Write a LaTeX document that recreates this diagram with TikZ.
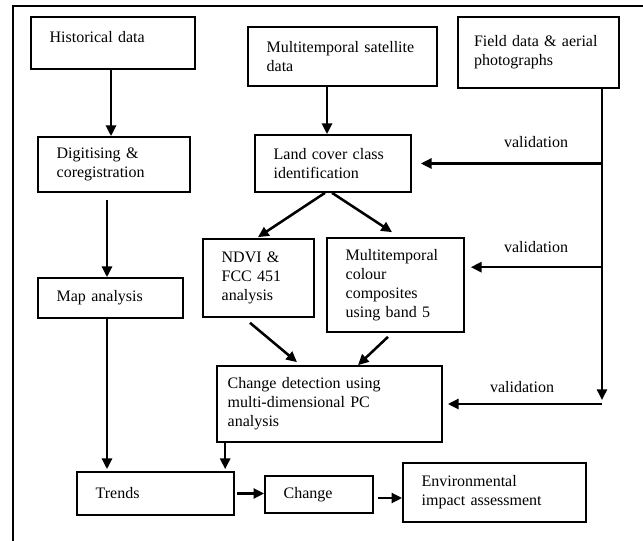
\documentclass[tikz,border=0pt]{standalone}
\usepackage{fontspec}
\setmainfont{Liberation Serif}
\usepackage{tikz}
\usetikzlibrary{arrows.meta, calc, positioning}
\tikzset{>={Triangle[length=8pt,width=7.5pt]}}
\tikzset{
    box/.style={draw, line width=1.25pt, align=left, inner xsep=14pt, inner ysep=3pt, font=\fontsize{12}{14.25}\selectfont},
    arr/.style={->, line width=1.9pt},
    lbl/.style={font=\fontsize{12}{14.25}\selectfont}
}

\begin{document}
\begin{tikzpicture}[x=0.75pt, y=-0.75pt]
    \useasboundingbox (0,0) rectangle (643,541);
    \draw[line width=1.6pt](643,6)--(13,6)--(13,541);
    \node[box, text width=95pt, minimum height=39pt, text depth=9pt](hist) at (113,43){Historical data};
    \node[box, text width=86pt, minimum height=41.25pt](digit) at (114,164.5){Digitising \&\\coregistration};
    \node[box, text width=80.75pt, minimum height=30pt](mapan) at (110.5,298){Map analysis};
    \node[box, text width=113.75pt, minimum height=44.25pt](sat) at (342.5,56.5){Multitemporal satellite\\data};
    \node[box, text width=89pt, minimum height=42.75pt](land) at (333,163.5){Land cover class\\identification};
    \node[box, inner xsep=12pt, text width=96.75pt, minimum height=53.25pt](field) at (538.5,52.5){Field data \& aerial\\photographs};
    \node[box, text width=55.25pt, minimum height=58.5pt](ndvi) at (258.5,278){NDVI \&\\FCC 451\\analysis};
    \node[box, text width=74.75pt, minimum height=70.5pt](colour) at (395.5,285){Multitemporal\\colour\\composites\\using band 5};
    \node[box, inner xsep=8pt, text width=152.75pt, minimum height=57pt](detect) at (329.5,404){Change detection using\\multi-dimensional PC\\analysis};
    \node[box, text width=89.75pt, minimum height=32.25pt](trends) at (155.5,493.5){Trends};
    \node[box, text width=53pt, minimum height=27.75pt](change) at (319,494.5){Change};
    \node[box, text width=109.25pt, minimum height=44.25pt](env) at (494.5,492.5){Environmental\\impact assessment};
    \node[lbl](val1) at (536,142){validation};
    \node[lbl](val2) at (536,247){validation};
    \node[lbl](val3) at (522,387){validation};
    \coordinate (vbot) at (602,400);
    \draw[arr]($(hist.south)+(-2,0)$)--($(digit.north)+(-3,0)$);
    \draw[arr]($(digit.south)+(-7,7)$)--($(mapan.north)+(-3.5,0)$);
    \draw[arr]($(mapan.south)+(-3.5,0)$)--($(mapan.south |- trends.north)+(-3.5,-2)$);
    \draw[arr]($(sat.south -| land.north)+(-6,0)$)--($(land.north)+(-6,0)$);
    \draw[arr]($(land.south)+(-8,0)$)--($(ndvi.north)+(-0.5,-1)$);
    \draw[arr]($(land.south)+(-1,0)$)--($(colour.north)+(-3.5,-5)$);
    \draw[arr]($(ndvi.south)+(-8.5,5)$)--($(detect.north)+(-32.5,-3)$);
    \draw[arr]($(colour.south)+(-7.5,4)$)--($(detect.north)+(28.5,0)$);
    \draw[arr]($(detect.south west)+(9,0)$)--($(detect.south west |- trends.north)+(9,-2)$);
    \draw[arr]($(trends.east)+(2,0)$)--(trends.east -| change.west);
    \draw[arr]($(change.east)+(4,3.5)$)--($(change.east -| env.west)+(0,3.5)$);
    \draw[arr](vbot |- field.south)--(vbot);
    \draw[arr](vbot |- land.east)--($(land.east)+(9,0)$);
    \draw[arr]($(colour.north east)+(138,30)$)--($(colour.north east)+(6,30)$);
    \draw[arr](vbot |- detect.east)--($(detect.east)+(5,0)$);
\end{tikzpicture}
\end{document}
